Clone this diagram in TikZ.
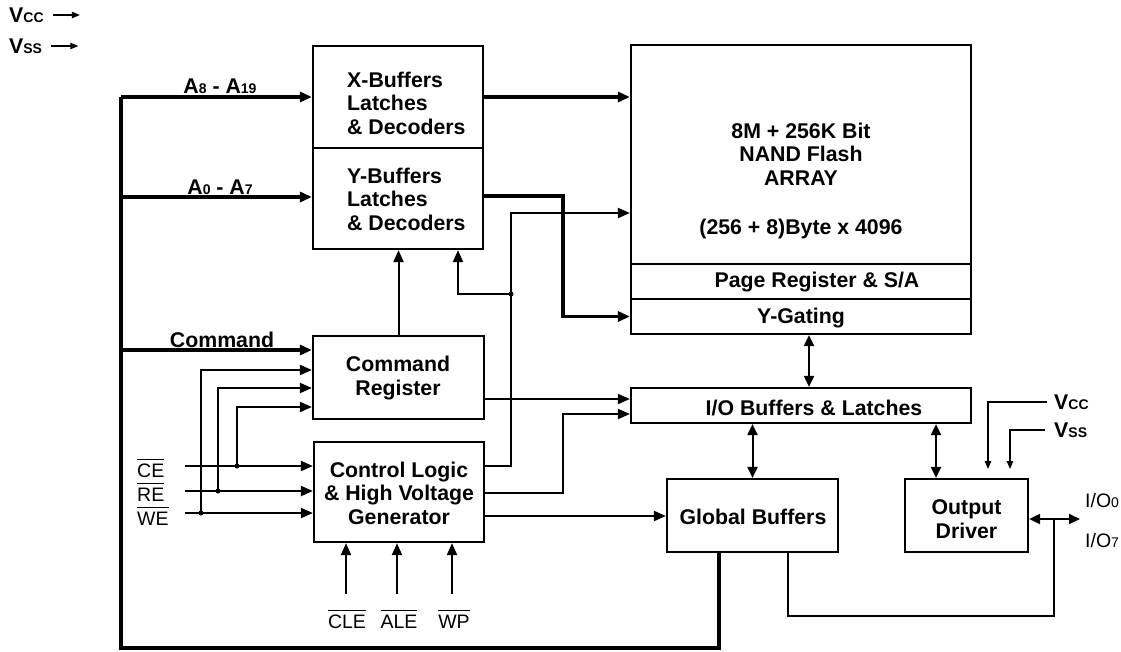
\documentclass[tikz,border=0pt]{standalone}
\usepackage{fontspec}
\setmainfont{Liberation Sans}
\usetikzlibrary{arrows.meta,calc}
\newcommand{\sm}[1]{{\fontsize{14}{15}\selectfont #1}}
\newcommand{\ovl}[1]{\leavevmode\vbox{\hrule height 1.4pt\kern 3.2pt\hbox{#1}}}
\begin{document}
\begin{tikzpicture}[x=1pt,y=-1pt,
  box/.style={draw, line width=2.2pt, inner sep=0pt},
  bl/.style={font=\bfseries\fontsize{21.3}{23.5}\selectfont, inner sep=0pt, align=center},
  rl/.style={font=\fontsize{19.5}{22}\selectfont, inner sep=0pt},
  wire/.style={line width=2pt},
  bus/.style={line width=3.2pt},
  thinw/.style={line width=1.1pt},
  arr/.style={-{Triangle[length=12pt,width=10pt]}},
  darr/.style={{Triangle[length=11pt,width=10pt]}-{Triangle[length=11pt,width=10pt]}},
  sarr/.style={-{Triangle[length=8pt,width=6.5pt]}},
  jdot/.style={circle, fill, inner sep=0pt, minimum size=5pt}]
\useasboundingbox (0,0) rectangle (1121,651);

% boxes
\node[box, minimum width=170pt, minimum height=102pt] (xb) at (398,97) {};
\node[box, minimum width=170pt, minimum height=101pt] (yb) at (398,198.5) {};
\node[box, minimum width=340pt, minimum height=219pt] (ar) at (801,154.5) {};
\node[box, minimum width=340pt, minimum height=35pt] (pr) at (801,281.5) {};
\node[box, minimum width=340pt, minimum height=35pt] (yg) at (801,316.5) {};
\node[box, minimum width=171pt, minimum height=83pt] (cr) at (398.5,377.5) {};
\node[box, minimum width=170pt, minimum height=100pt] (cl) at (399,492) {};
\node[box, minimum width=340pt, minimum height=35pt] (io) at (801,405.5) {};
\node[box, minimum width=171pt, minimum height=73pt] (gb) at (752.5,515.5) {};
\node[box, minimum width=123pt, minimum height=73pt] (od) at (966.5,515.5) {};

% box texts
\node[bl, align=left, anchor=west] (xt) at (347,103) {X-Buffers\\Latches\\\& Decoders};
\node[bl, align=left, anchor=west] (yt) at (347,199) {Y-Buffers\\Latches\\\& Decoders};
\node[bl] (art1) at (801,154) {8M + 256K Bit\\NAND Flash\\ARRAY};
\node[bl] (art2) at (801,229) {(256 + 8)Byte x 4096};
\node[bl] (prt) at (817,282) {Page Register \& S/A};
\node[bl] (ygt) at (801,318) {Y-Gating};
\node[bl] (iot) at (814,408) {I/O Buffers \& Latches};
\node[bl] (crt) at (398,378) {Command\\Register};
\node[bl] (clt) at (399,493) {Control Logic\\\& High Voltage\\Generator};
\node[bl] (gbt) at (753,517) {Global Buffers};
\node[bl] (odt) at (966.5,519) {Output\\Driver};

% labels
\node[bl] (la8) at (220,86) {A\sm{8} - A\sm{19}};
\node[bl] (la0) at (220,187) {A\sm{0} - A\sm{7}};
\node[bl] (lcmd) at (222,340) {Command};
\node[bl, anchor=west] (vccl) at (9,15) {V\sm{CC}};
\node[bl, anchor=west] (vssl) at (9,46) {V\sm{SS}};
\node[bl, anchor=west] (vccr) at (1054,402) {V\sm{CC}};
\node[bl, anchor=west] (vssr) at (1054,430) {V\sm{SS}};
\node[rl, anchor=west] (io0) at (1085,501) {I/O\sm{0}};
\node[rl, anchor=west] (io7) at (1085,541) {I/O\sm{7}};
\node[rl, anchor=base west] (lce) at (137,477) {\ovl{CE}};
\node[rl, anchor=base west] (lre) at (137,501) {\ovl{RE}};
\node[rl, anchor=base west] (lwe) at (137,525) {\ovl{WE}};
\node[rl, anchor=base] (lcle) at (347,628) {\ovl{CLE}};
\node[rl, anchor=base] (lale) at (399,628) {\ovl{ALE}};
\node[rl, anchor=base] (lwp) at (454,628) {\ovl{WP}};

% supply arrows top left
\draw[thinw, sarr] ([xshift=9pt]vccl.east) -- ++(27,0);
\draw[thinw, sarr] ([xshift=9pt]vssl.east) -- ++(27,0);

% address / command bus
\coordinate (bA) at (121,97);
\coordinate (bY) at (121,197);
\coordinate (bC) at (121,350);
\coordinate (bB) at (121,648);
\draw[bus] (bA) -- (bB) -| ([xshift=-33.5pt]gb.south);
\draw[bus,arr] (bA) -- (xb.west |- bA);
\draw[bus,arr] (bY) -- (yb.west |- bY);
\draw[bus,arr] (bC) -- (cr.west |- bC);
\draw[bus,arr] (xb.east |- bA) -- (ar.west |- bA);
\coordinate (yc) at (563,196);
\draw[bus,arr] (yb.east |- yc) -- (yc) |- (yg.west);

% control inputs
\coordinate (ce0) at (185,466);
\coordinate (re0) at (185,491);
\coordinate (we0) at (185,513);
\draw[wire,arr] (ce0) -- (cl.west |- ce0);
\draw[wire,arr] (re0) -- (cl.west |- re0);
\draw[wire,arr] (we0) -- (cl.west |- we0);
\node[jdot] (jce) at (237,466) {};
\node[jdot] (jre) at (218,491) {};
\node[jdot] (jwe) at (201,513) {};
\coordinate (k1) at (237,407);
\coordinate (k2) at (218,388);
\coordinate (k3) at (201,370);
\draw[wire,arr] (jce.center) -- (k1) -- (cr.west |- k1);
\draw[wire,arr] (jre.center) -- (k2) -- (cr.west |- k2);
\draw[wire,arr] (jwe.center) -- (k3) -- (cr.west |- k3);

% command register links
\draw[wire,arr] (cr.north) -- (yb.south -| cr.north);
\coordinate (k4) at (484,399);
\draw[wire,arr] (cr.east |- k4) -- (io.west |- k4);

% control logic outputs
\coordinate (c1) at (511,466);
\coordinate (c1t) at (511,213);
\draw[wire,arr] (cl.east |- c1) -- (c1) -- (c1t) -- (ar.west |- c1t);
\node[jdot] (j1) at (511,294) {};
\draw[wire,arr] (j1.center) -| ([xshift=60pt]yb.south);
\coordinate (c2) at (563,493);
\coordinate (c2t) at (563,414);
\draw[wire,arr] (cl.east |- c2) -- (c2) -- (c2t) -- (io.west |- c2t);
\coordinate (c3) at (484,516);
\draw[wire,arr] (cl.east |- c3) -- (gb.west |- c3);

% bottom inputs
\coordinate (q1) at (346,594);
\coordinate (q2) at (397,594);
\coordinate (q3) at (452,594);
\draw[wire,arr] (q1) -- (q1 |- cl.south);
\draw[wire,arr] (q2) -- (q2 |- cl.south);
\draw[wire,arr] (q3) -- (q3 |- cl.south);

% double arrows
\coordinate (d1) at (809,0);
\draw[wire,darr] (yg.south -| d1) -- (io.north -| d1);
\draw[wire,darr] (io.south -| gb.north) -- (gb.north);
\coordinate (d3) at (936,0);
\draw[wire,darr] (io.south -| d3) -- (od.north -| d3);

% right supplies
\coordinate (s1) at (988,469);
\coordinate (s2) at (1010,469);
\draw[thinw,sarr] ([xshift=-7pt]vccr.west) -| (s1);
\draw[thinw,sarr] ([xshift=-9pt]vssr.west) -| (s2);

% output
\coordinate (o1) at (1080,519);
\draw[wire,darr] (od.east |- o1) -- (o1);
\coordinate (o2) at (1054,616);
\draw[wire] ([xshift=35.5pt]gb.south) |- (o2) -- (o2 |- o1);
\end{tikzpicture}
\end{document}
